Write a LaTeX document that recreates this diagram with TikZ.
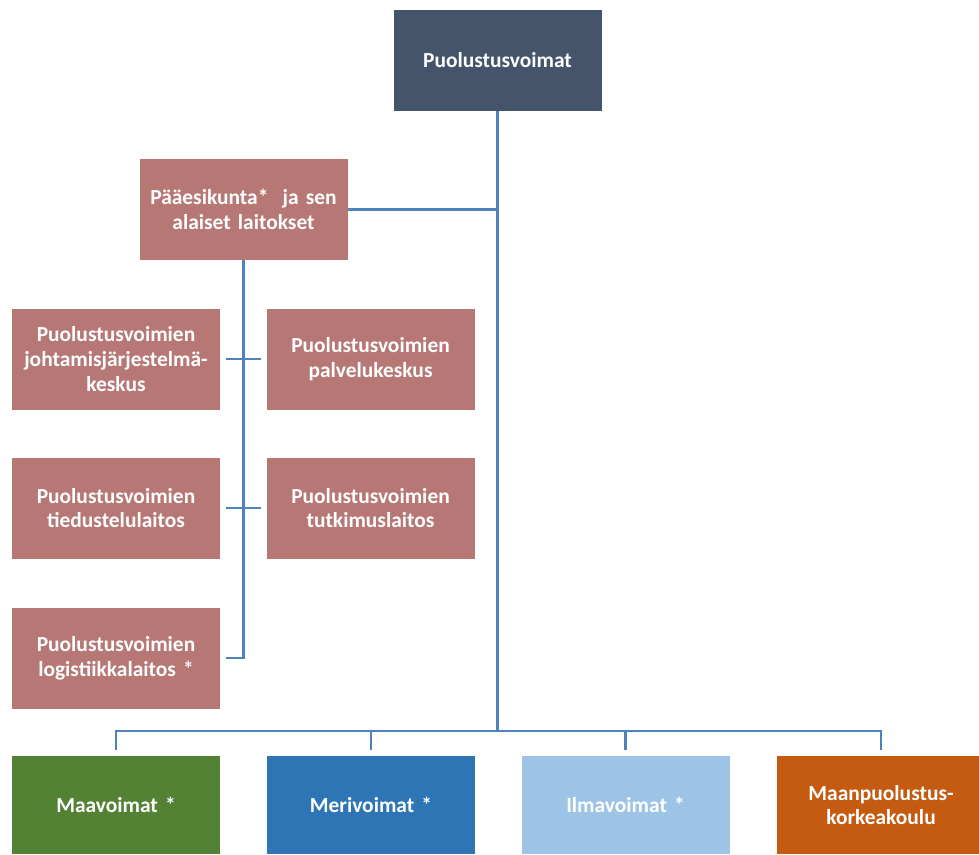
\documentclass[tikz,border=0pt]{standalone}
\usepackage{fontspec}
\setmainfont{Carlito}
\usetikzlibrary{positioning}

\definecolor{topclr}{HTML}{44546A}
\definecolor{roseclr}{HTML}{B77875}
\definecolor{greenclr}{HTML}{548235}
\definecolor{blueclr}{HTML}{2E75B6}
\definecolor{skyclr}{HTML}{9DC3E6}
\definecolor{orangeclr}{HTML}{C55A11}
\definecolor{lineclr}{HTML}{4F81BD}

\begin{document}
\begin{tikzpicture}[
			font=\fontsize{12.2}{14}\selectfont\bfseries,
			unit/.style={
				rectangle, text=white,
				text width=3.9cm, align=center,
				minimum width=4.16cm, minimum height=2.02cm,
				inner sep=2pt
			},
			hq/.style={unit, fill=topclr},
			office/.style={unit, fill=roseclr},
			branch/.style={unit, fill=#1, minimum height=1.96cm},
			conn/.style={draw=lineclr, line width=1.6pt}
			]
			\useasboundingbox (0,0) rectangle (19.58,-17.08);
			
			%% ── Top ─────────────────────────────────────────────────────────────
			\node[hq] (pv) at (9.95, -1.2) {Puolustusvoimat};
			\node[office] (pe) at (4.87, -4.19) {Pääesikunta*\ \ ja sen\\alaiset laitokset};
			
			%% ── Laitokset ───────────────────────────────────────────────────────
			\node[office] (jsk) at (2.32, -7.18) {Puolustusvoimien\\johtamisjärjestelmä-\\keskus};
			\node[office] (pk) at (7.41, -7.18) {Puolustusvoimien\\palvelukeskus};
			\node[office] (tl) at (2.32, -10.16) {Puolustusvoimien\\tiedustelulaitos};
			\node[office] (tk) at (7.41, -10.16) {Puolustusvoimien\\tutkimuslaitos};
			\node[office] (ll) at (2.32, -13.16) {Puolustusvoimien\\logistiikkalaitos *};
			
			%% ── Bottom row ──────────────────────────────────────────────────────
			\node[branch=greenclr] (mv) at (2.32, -16.1) {Maavoimat *};
			\node[branch=blueclr] (mer) at (7.42, -16.1) {Merivoimat *};
			\node[branch=skyclr] (ilm) at (12.51, -16.1) {Ilmavoimat *};
			\node[branch=orangeclr] (mpk) at (17.62, -16.1) {Maanpuolustus-\\korkeakoulu};
			
			%% ── Connectors ──────────────────────────────────────────────────────
			\coordinate (bus) at (9.95, -14.62);
			\draw[conn] (pv.south) -- (bus);
			\draw[conn] (pe.east) -- (pe.east -| pv.south);
			\draw[conn] (pe.south) |- ([xshift=3pt]ll.east);
			\draw[conn] ([xshift=3pt]jsk.east) -- ([xshift=-3pt]pk.west);
			\draw[conn] ([xshift=3pt]tl.east) -- ([xshift=-3pt]tk.west);
			\draw[conn] ([yshift=3pt]mv.north) |- (bus);
			\draw[conn] ([yshift=3pt]mer.north) |- (bus);
			\draw[conn] ([yshift=3pt]ilm.north) |- (bus);
			\draw[conn] ([yshift=3pt]mpk.north) |- (bus);
			
		\end{tikzpicture}
\end{document}
